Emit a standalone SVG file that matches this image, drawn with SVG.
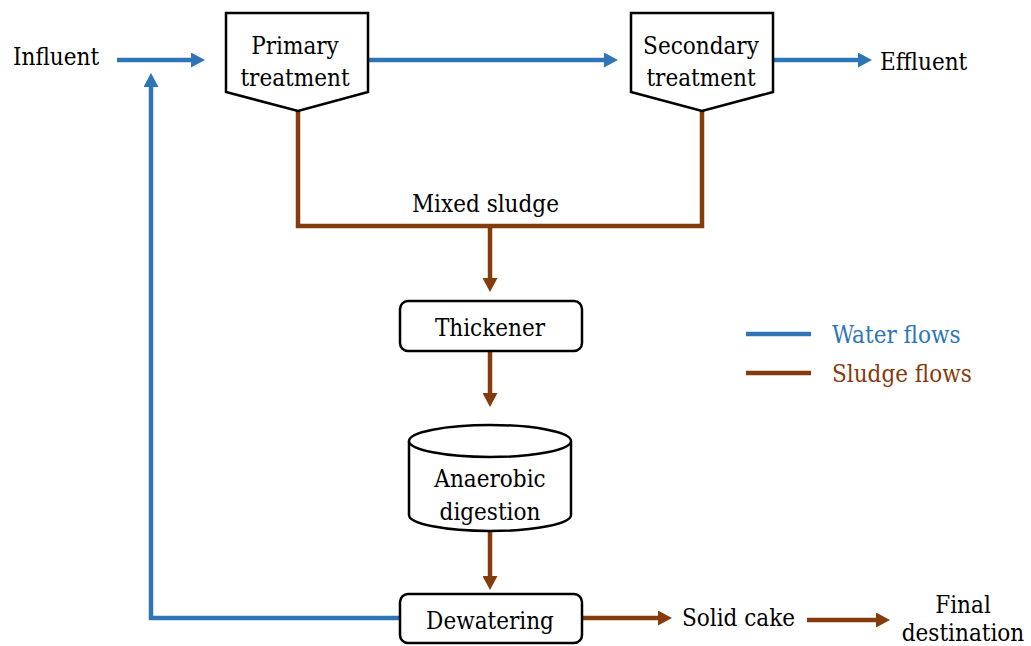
<svg xmlns="http://www.w3.org/2000/svg" width="1031" height="646" viewBox="0 0 1031 646">
<style>
.t{font-family:'DejaVu Serif Condensed','DejaVu Serif',serif;font-stretch:condensed;font-size:24px;fill:#000}
.c{text-anchor:middle}
.node{fill:#fff;stroke:#000;stroke-width:2.5;stroke-linejoin:miter}
.w{fill:none;stroke:#2E75B6;stroke-width:4.5}
.s{fill:none;stroke:#843C0C;stroke-width:4.5}
</style>
<defs>
<marker id="aw" markerUnits="userSpaceOnUse" markerWidth="14" markerHeight="15" refX="4" refY="7.5" orient="auto"><path d="M0,0 L14,7.5 L0,15 z" fill="#2E75B6"/></marker>
<marker id="as" markerUnits="userSpaceOnUse" markerWidth="14" markerHeight="15" refX="4" refY="7.5" orient="auto"><path d="M0,0 L14,7.5 L0,15 z" fill="#843C0C"/></marker>
</defs>
<rect width="1031" height="646" fill="#fff"/>
<g id="connectors">
<path class="w" d="M117,60 H195" marker-end="url(#aw)"/>
<path class="w" d="M368,60 H608" marker-end="url(#aw)"/>
<path class="w" d="M773,60 H862" marker-end="url(#aw)"/>
<path class="w" d="M400,618 H151 V83" marker-end="url(#aw)"/>
<path class="s" d="M298,111 V226 H702 V111"/>
<path class="s" d="M490,226 V282" marker-end="url(#as)"/>
<path class="s" d="M490,351 V397" marker-end="url(#as)"/>
<path class="s" d="M490,531 V580" marker-end="url(#as)"/>
<path class="s" d="M582,618 H662" marker-end="url(#as)"/>
<path class="s" d="M807,620 H880" marker-end="url(#as)"/>
</g>
<g id="influent"><text class="t" x="13" y="65">Influent</text></g>
<g id="primary">
<path class="node" d="M226,13 H368 V92 L298,111 L226,92 Z"/>
<text class="t c" x="295" y="54">Primary</text>
<text class="t c" x="295" y="86">treatment</text>
</g>
<g id="secondary">
<path class="node" d="M631,13 H773 V92 L702,111 L631,92 Z"/>
<text class="t c" x="701" y="54">Secondary</text>
<text class="t c" x="701" y="86">treatment</text>
</g>
<g id="effluent"><text class="t" x="880" y="70">Effluent</text></g>
<g id="mixed"><text class="t" x="412" y="212">Mixed sludge</text></g>
<g id="thickener">
<rect class="node" x="400" y="301" width="182" height="50" rx="8"/>
<text class="t c" x="490" y="336">Thickener</text>
</g>
<g id="digestion">
<path class="node" d="M409,441 V515 A81,16 0 0 0 571,515 V441"/>
<ellipse class="node" cx="490" cy="441" rx="81" ry="16"/>
<text class="t c" x="490" y="487">Anaerobic</text>
<text class="t c" x="490" y="520">digestion</text>
</g>
<g id="dewatering">
<rect class="node" x="400" y="594" width="182" height="49" rx="8"/>
<text class="t c" x="490" y="629">Dewatering</text>
</g>
<g id="cake"><text class="t" x="682" y="626">Solid cake</text></g>
<g id="final">
<text class="t c" x="963" y="613">Final</text>
<text class="t c" x="963" y="641">destination</text>
</g>
<g id="legend">
<path class="w" d="M746,334 H811"/>
<path class="s" d="M746,373 H811"/>
<text class="t" x="832" y="343" style="fill:#2E75B6">Water flows</text>
<text class="t" x="832" y="382" style="fill:#843C0C">Sludge flows</text>
</g>
</svg>
